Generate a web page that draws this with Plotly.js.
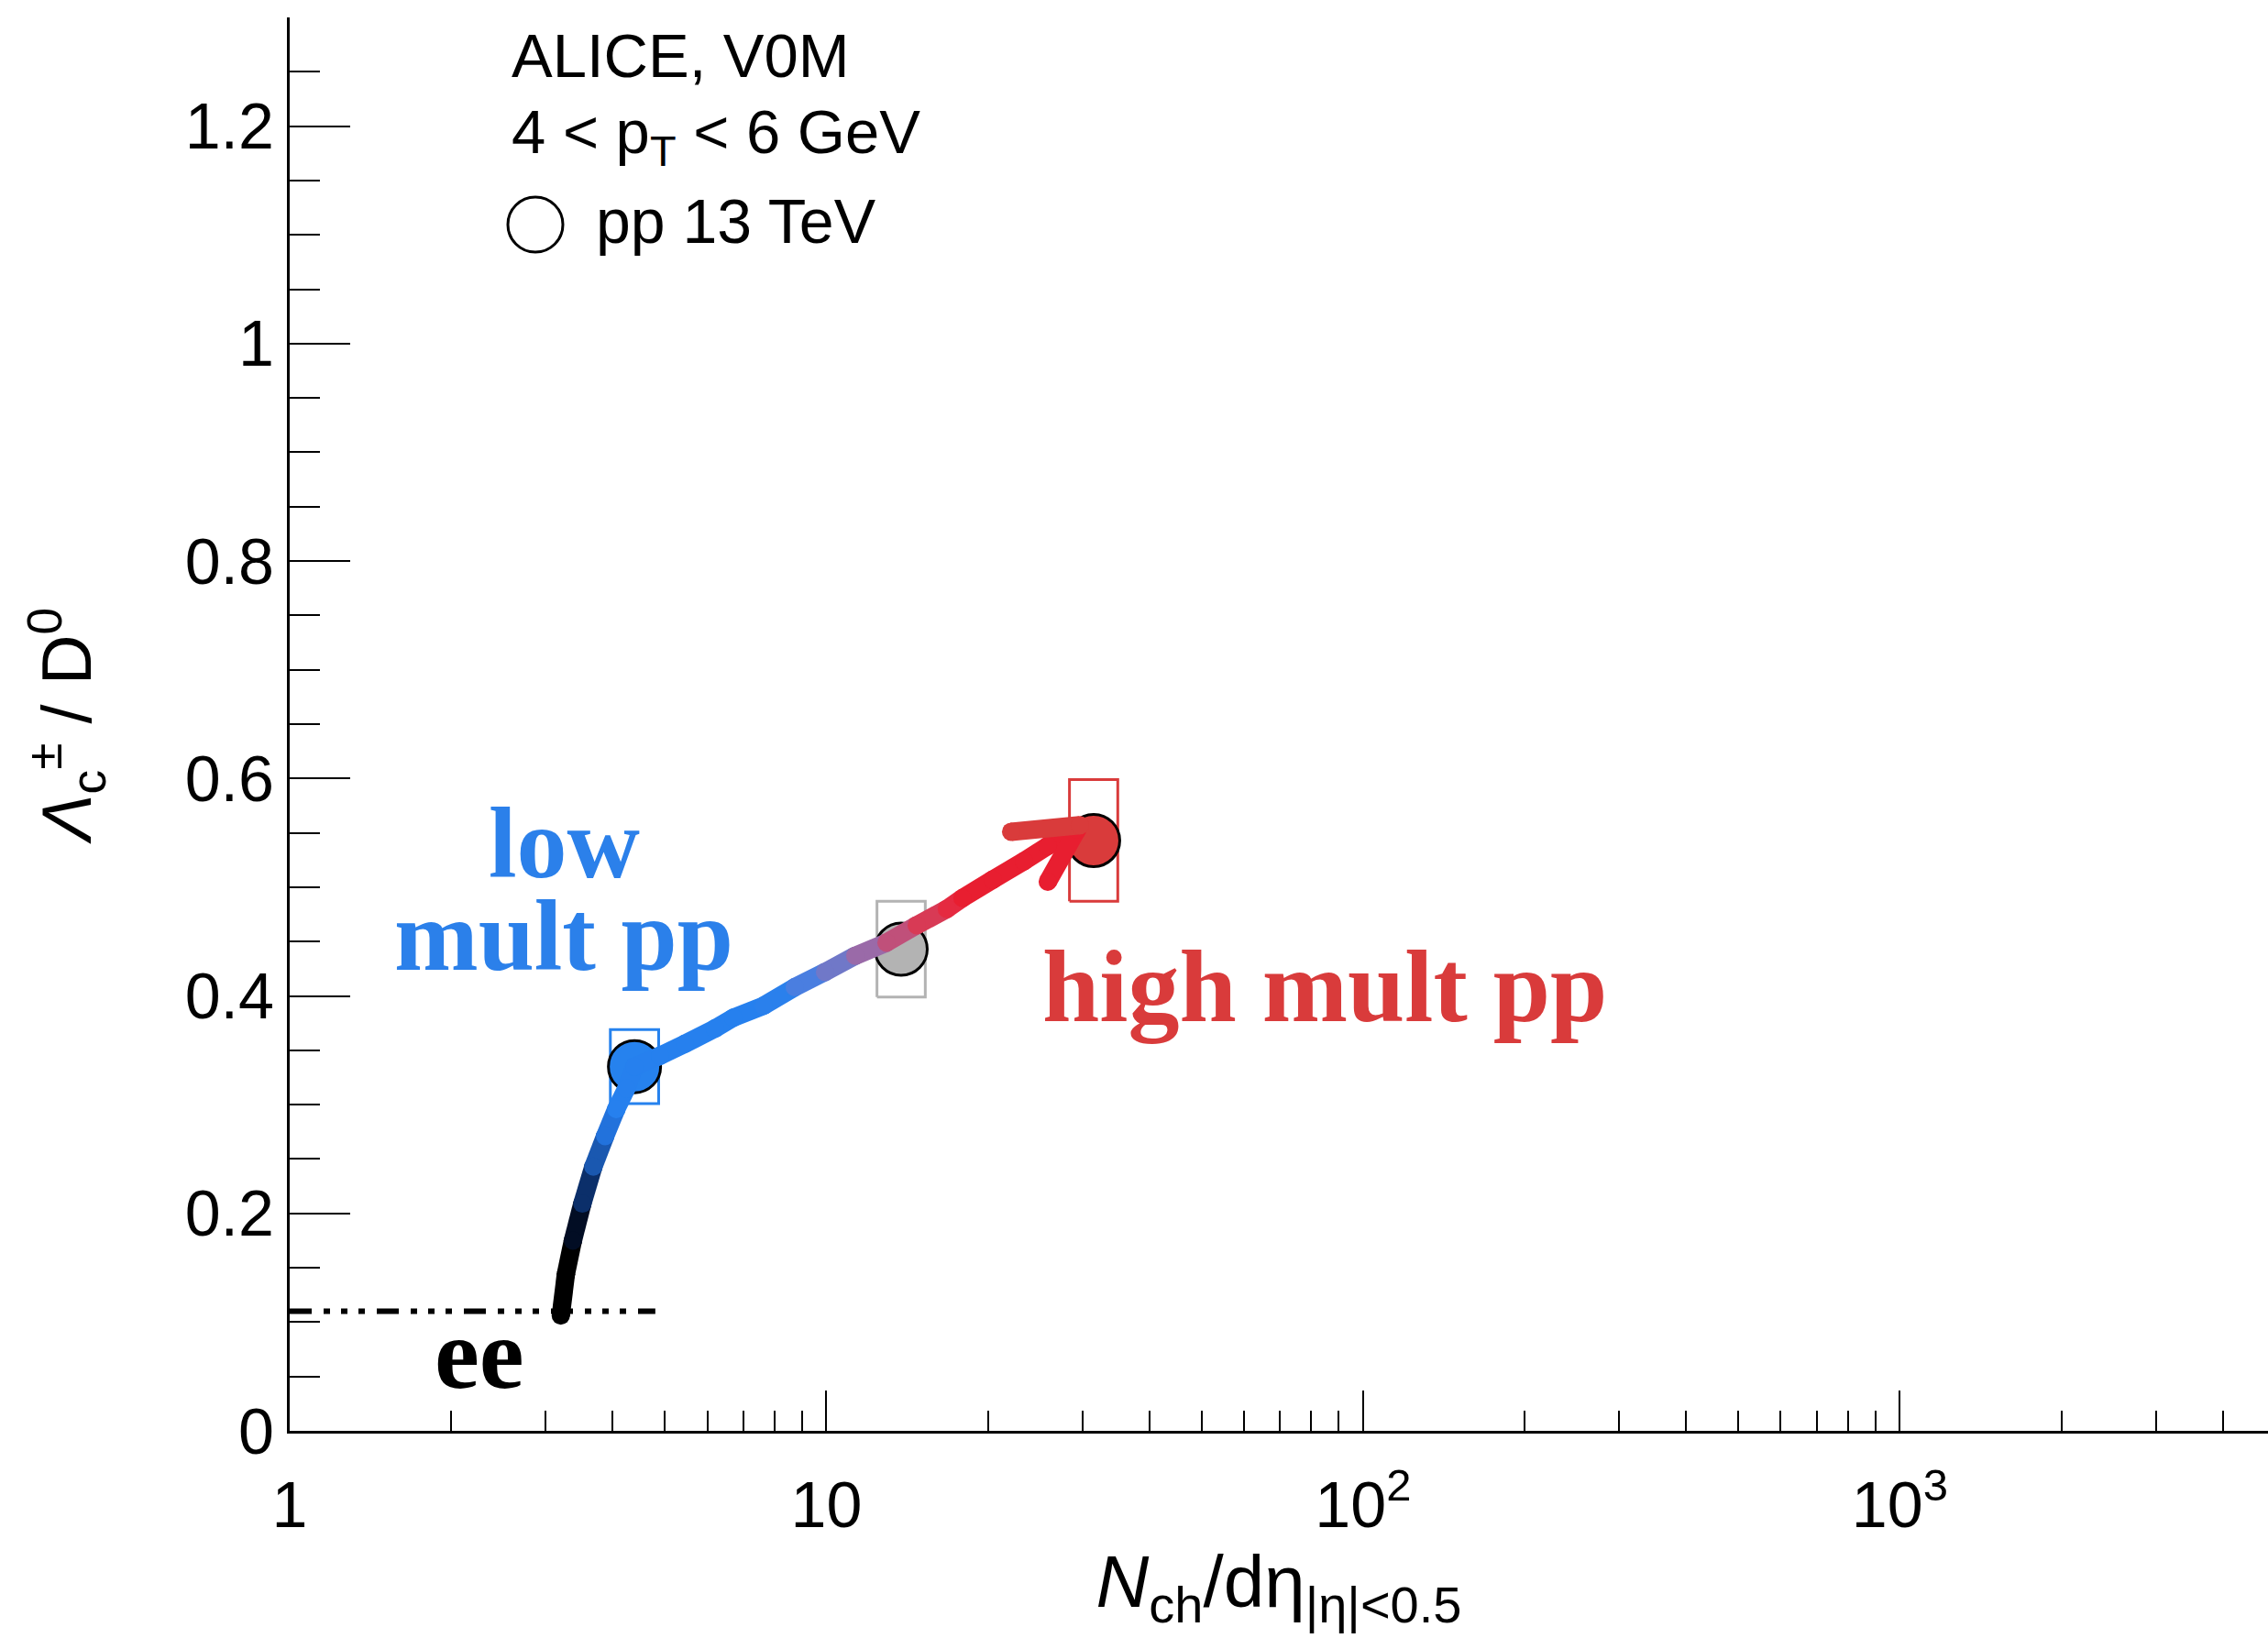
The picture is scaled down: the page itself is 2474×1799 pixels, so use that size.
<!DOCTYPE html>
<html>
<head>
<meta charset="utf-8">
<script src="https://cdn.plot.ly/plotly-3.0.1.min.js"></script>
<style>
  html, body { margin: 0; padding: 0; background: #ffffff; }
  #chart { width: 2474px; height: 1799px; }
</style>
</head>
<body>
<div id="chart"></div>
<script>
// ---------------- data ----------------
const pointLabels = ['low mult pp', 'mid mult pp', 'high mult pp'];
const multX = [4.39, 13.78, 31.47];          // Nch/deta
const ratioY = [0.335, 0.443, 0.543];        // Lambda_c / D0
const systY = [0.034, 0.044, 0.056];         // systematic (box half-height)

const eeRatio = 0.11;                        // e+e- reference value
const eeX = [1, 4.8];

// hand-drawn trend arrow
const curveX = [3.20, 3.27, 3.37, 3.51, 3.68, 3.87, 4.06, 4.24, 4.39, 4.90, 5.45, 6.20, 6.71, 7.64,
                8.73, 9.94, 11.32, 12.94, 14.73, 16.77, 17.93, 20.42, 23.35, 25.85, 29.32];
const curveY = [0.106, 0.144, 0.175, 0.209, 0.243, 0.271, 0.296, 0.315, 0.335, 0.345, 0.356, 0.370, 0.380, 0.391,
                0.408, 0.422, 0.437, 0.449, 0.465, 0.480, 0.490, 0.507, 0.524, 0.538, 0.553];
const arrowUpperX = [22.09, 29.67];
const arrowUpperY = [0.551, 0.557];
const arrowLowerX = [25.85, 29.32];
const arrowLowerY = [0.505, 0.553];

const xTickVals = [1, 10, 100, 1000];
const xTickText = ['1', '10', '10<sup>2</sup>', '10<sup>3</sup>'];
const yTickVals = [0, 0.2, 0.4, 0.6, 0.8, 1.0, 1.2];
const yTickText = ['0', '0.2', '0.4', '0.6', '0.8', '1', '1.2'];

// ---------------- styles ----------------
const pointColors = ['#2682ee', '#b3b3b3', '#d93b3b'];
const curveColors = ['#000000', '#000000', '#020d24', '#0b2f6a', '#1a58b0', '#2272dc', '#2680ee', '#2680ee',
                     '#2680ee', '#2680ee', '#2680ee', '#2680ee', '#2680ee', '#2a80ec', '#4a7ee0', '#7078c8',
                     '#9a6aa8', '#c0507a', '#d83a55', '#e52a40', '#e81e30', '#e81e30', '#e81e30', '#e81e30', '#e81e30'];
const BOX_HALF_LOG = 0.045;
const CURVE_W = 20;
const SANS = 'Liberation Sans, Arial, Helvetica, sans-serif';
const SERIF = 'Liberation Serif, Times New Roman, serif';

// plot-area geometry helpers (pixel -> paper)
const L = 316, R = 2474, T = 19, B = 1561;
const px = v => (v - L) / (R - L);
const py = v => (B - v) / (B - T);

const traces = [];

// syst boxes
for (let i = 0; i < multX.length; i++) {
  const x0 = multX[i] * Math.pow(10, -BOX_HALF_LOG), x1 = multX[i] * Math.pow(10, BOX_HALF_LOG);
  const y0 = ratioY[i] - systY[i], y1 = ratioY[i] + systY[i];
  traces.push({
    type: 'scatter', mode: 'lines', x: [x0, x1, x1, x0, x0], y: [y0, y0, y1, y1, y0],
    line: { color: pointColors[i], width: 3 }, hoverinfo: 'skip', showlegend: false
  });
}

// ee reference line
traces.push({
  type: 'scatter', mode: 'lines', x: eeX, y: [eeRatio, eeRatio],
  line: { color: '#000000', width: 6, dash: '24px,13px,7px,12px,7px,12px,7px,13px' },
  hoverinfo: 'skip', showlegend: false
});

// data points
traces.push({
  type: 'scatter', mode: 'markers', x: multX, y: ratioY, text: pointLabels,
  marker: { size: 57, color: pointColors, line: { color: '#000000', width: 3 } },
  showlegend: false
});

// gradient trend curve, segment by segment
for (let i = 0; i < curveX.length - 1; i++) {
  traces.push({
    type: 'scatter', mode: 'lines+markers',
    x: [curveX[i], curveX[i + 1]], y: [curveY[i], curveY[i + 1]],
    line: { color: curveColors[i], width: CURVE_W },
    marker: { size: CURVE_W, color: curveColors[i], line: { width: 0 } },
    hoverinfo: 'skip', showlegend: false
  });
}
// arrow head
traces.push({
  type: 'scatter', mode: 'lines+markers', x: arrowLowerX, y: arrowLowerY,
  line: { color: '#e81e30', width: CURVE_W }, marker: { size: CURVE_W, color: '#e81e30', line: { width: 0 } },
  hoverinfo: 'skip', showlegend: false
});
traces.push({
  type: 'scatter', mode: 'lines+markers', x: arrowUpperX, y: arrowUpperY,
  line: { color: '#d93b3b', width: CURVE_W }, marker: { size: CURVE_W, color: '#d93b3b', line: { width: 0 } },
  hoverinfo: 'skip', showlegend: false
});

// minor ticks
const minorX = [];
[1, 10, 100, 1000].forEach(d => { for (let m = 2; m <= 9; m++) minorX.push(m * d); });
const minorY = [];
for (let k = 1; k <= 26; k++) { if (k % 4 !== 0) minorY.push(+(k * 0.05).toFixed(2)); }

const annotations = [
  { text: 'ALICE, V0M', x: px(556), y: py(60), xanchor: 'left', yanchor: 'middle',
    font: { family: SANS, size: 67, color: '#000' } },
  { text: '4 &lt; p<sub>T</sub> &lt; 6 GeV', x: px(556), y: py(148), xanchor: 'left', yanchor: 'middle',
    font: { family: SANS, size: 67, color: '#000' } },
  { text: 'pp 13 TeV', x: px(648), y: py(241), xanchor: 'left', yanchor: 'middle',
    font: { family: SANS, size: 68, color: '#000' } },
  { text: '<b>low</b>', x: px(615), y: py(920), xanchor: 'center', yanchor: 'middle',
    font: { family: SERIF, size: 110, color: '#2b80ea' } },
  { text: '<b>mult pp</b>', x: px(615), y: py(1021), xanchor: 'center', yanchor: 'middle',
    font: { family: SERIF, size: 110, color: '#2b80ea' } },
  { text: '<b>high mult pp</b>', x: px(1445), y: py(1076), xanchor: 'center', yanchor: 'middle',
    font: { family: SERIF, size: 112, color: '#d93b3b' } },
  { text: '<b>ee</b>', x: px(523), y: py(1477), xanchor: 'center', yanchor: 'middle',
    font: { family: SERIF, size: 110, color: '#000' } }
].map(a => Object.assign({ xref: 'paper', yref: 'paper', showarrow: false }, a));

const layout = {
  width: 2474, height: 1799,
  margin: { l: L, r: 2474 - R, t: T, b: 1799 - B, pad: 0 },
  paper_bgcolor: '#ffffff', plot_bgcolor: '#ffffff',
  showlegend: false,
  font: { family: SANS, color: '#000000' },
  xaxis: {
    type: 'log', range: [0, 3.686],
    showline: true, linecolor: '#000', linewidth: 3, mirror: false,
    showgrid: false, zeroline: false,
    ticks: 'inside', ticklen: 44, tickwidth: 2, tickcolor: '#000',
    tickmode: 'array', tickvals: xTickVals, ticktext: xTickText,
    tickfont: { family: SANS, size: 70, color: '#000' },
    ticklabelstandoff: 18,
    minor: { ticks: 'inside', ticklen: 22, tickwidth: 2, tickcolor: '#000', tickmode: 'array', tickvals: minorX, showgrid: false },
    title: { text: '<i>N</i><sub>ch</sub>/dη<sub>|η|&lt;0.5</sub>', font: { family: SANS, size: 80, color: '#000' }, standoff: 14 }
  },
  yaxis: {
    range: [0, 1.3],
    showline: true, linecolor: '#000', linewidth: 3, mirror: false,
    showgrid: false, zeroline: false,
    ticks: 'inside', ticklen: 66, tickwidth: 2, tickcolor: '#000',
    tickmode: 'array', tickvals: yTickVals, ticktext: yTickText,
    tickfont: { family: SANS, size: 70, color: '#000' },
    minor: { ticks: 'inside', ticklen: 33, tickwidth: 2, tickcolor: '#000', tickmode: 'array', tickvals: minorY, showgrid: false },
    title: { text: '<i>Λ</i><sub>c</sub><sup>±</sup> / D<sup>0</sup>', font: { family: SANS, size: 76, color: '#000' }, standoff: 78 }
  },
  shapes: [
    { type: 'circle', xref: 'paper', yref: 'paper', xsizemode: 'pixel', ysizemode: 'pixel',
      xanchor: px(584), yanchor: py(245), x0: -30, x1: 30, y0: -30, y1: 30,
      line: { color: '#000', width: 3 }, fillcolor: 'rgba(0,0,0,0)' }
  ],
  annotations: annotations
};

Plotly.newPlot('chart', traces, layout, { staticPlot: true, displayModeBar: false });
</script>
</body>
</html>
